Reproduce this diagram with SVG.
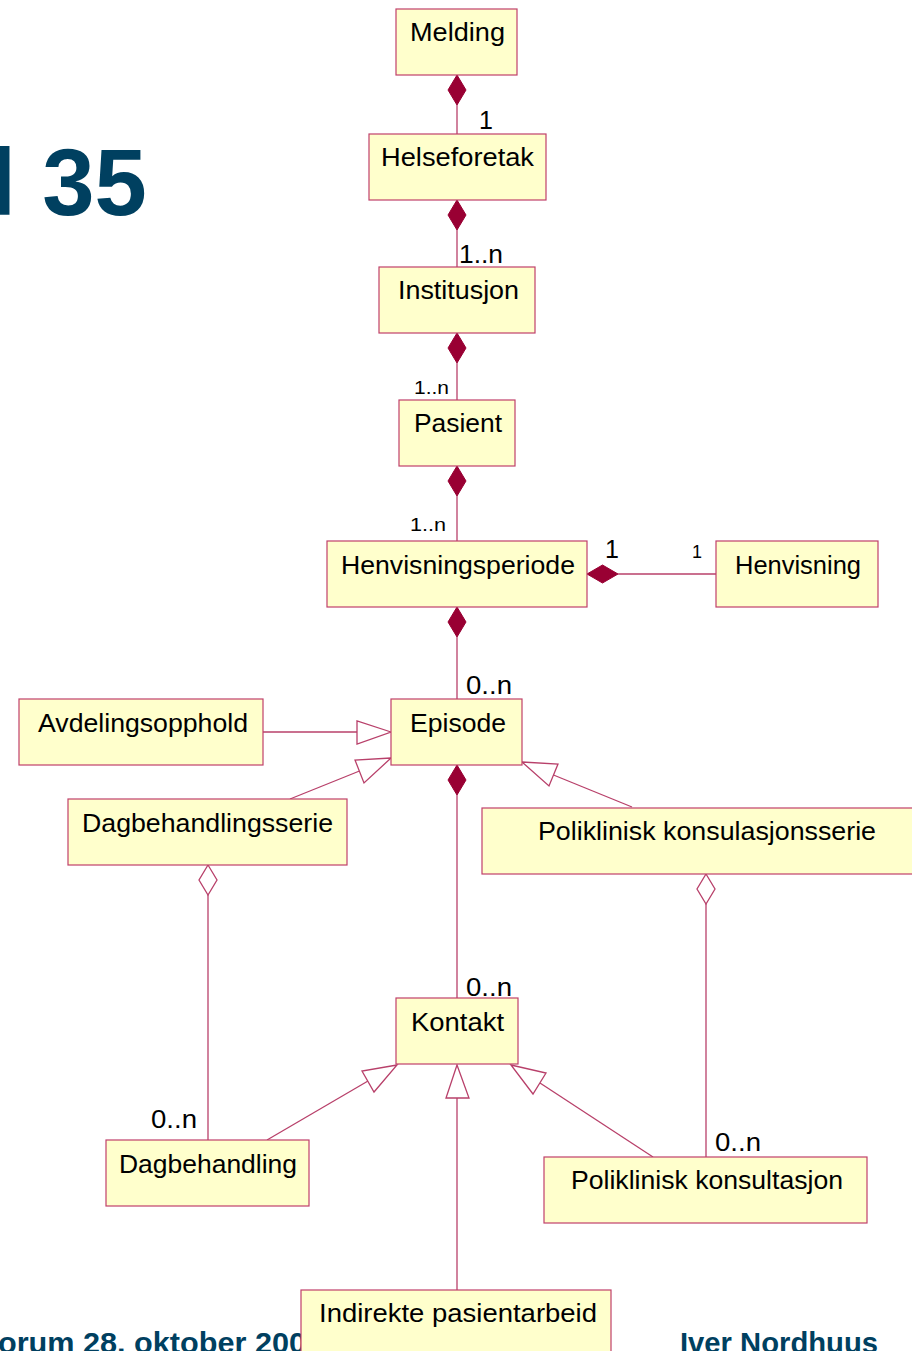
<svg xmlns="http://www.w3.org/2000/svg" width="912" height="1351" viewBox="0 0 912 1351">
<defs>
<style>
.box{fill:#FFFFCC;stroke:#C0406A;stroke-width:1.2}
.t{font-family:"Liberation Sans",Arial,sans-serif;font-size:25px;fill:#000;text-anchor:middle}
.m{font-family:"Liberation Sans",Arial,sans-serif;font-size:25px;fill:#000}
.s{font-family:"Liberation Sans",Arial,sans-serif;font-size:18px;fill:#000}
.ln{stroke:#B8406A;stroke-width:1.3;fill:none}
.fd{fill:#990033;stroke:#990033;stroke-width:1}
.hd{fill:#fff;stroke:#B8406A;stroke-width:1.3}
.tri{fill:#fff;stroke:#B8406A;stroke-width:1.3}
.title{font-family:"Liberation Sans",Arial,sans-serif;font-weight:bold;fill:#004060}
</style>
</defs>
<rect width="912" height="1351" fill="#fff"/>
<g id="title"><text class="title" x="-10" y="215" font-size="94">l 35</text></g>
<g id="footer">
<text class="title" x="-2" y="1353" font-size="29" textLength="308" lengthAdjust="spacingAndGlyphs">orum 28. oktober 200</text>
<text class="title" x="680" y="1353" font-size="29" textLength="198" lengthAdjust="spacingAndGlyphs">Iver Nordhuus</text>
</g>
<g id="connectors">
<line class="ln" x1="457" y1="105" x2="457" y2="134"/>
<polygon class="fd" points="457,75 466,90 457,105 448,90"/>
<line class="ln" x1="457" y1="230" x2="457" y2="267"/>
<polygon class="fd" points="457,200 466,215 457,230 448,215"/>
<line class="ln" x1="457" y1="363" x2="457" y2="400"/>
<polygon class="fd" points="457,333 466,348 457,363 448,348"/>
<line class="ln" x1="457" y1="496" x2="457" y2="541"/>
<polygon class="fd" points="457,466 466,481 457,496 448,481"/>
<line class="ln" x1="457" y1="637" x2="457" y2="699"/>
<polygon class="fd" points="457,607 466,622 457,637 448,622"/>
<line class="ln" x1="618" y1="574" x2="716" y2="574"/>
<polygon class="fd" points="587,574 602.5,565 618,574 602.5,583"/>
<line class="ln" x1="457" y1="795" x2="457" y2="998"/>
<polygon class="fd" points="457,765 466,780 457,795 448,780"/>
<line class="ln" x1="263" y1="732" x2="357" y2="732"/>
<polygon class="tri" points="391,732 357,721 357,744"/>
<line class="ln" x1="290" y1="799" x2="359.5" y2="771"/>
<polygon class="tri" points="391,758 355,760 364,783"/>
<line class="ln" x1="632" y1="807" x2="553.5" y2="775"/>
<polygon class="tri" points="522,762 558,764 549,786"/>
<line class="ln" x1="208" y1="895" x2="208" y2="1140"/>
<polygon class="hd" points="208,865 217,880 208,895 199,880"/>
<line class="ln" x1="706" y1="904" x2="706" y2="1157"/>
<polygon class="hd" points="706,874 715,889 706,904 697,889"/>
<line class="ln" x1="267" y1="1140" x2="368" y2="1081"/>
<polygon class="tri" points="397,1065 362,1071 374,1092"/>
<line class="ln" x1="457" y1="1098" x2="457" y2="1290"/>
<polygon class="tri" points="457,1065 446,1098 469,1098"/>
<line class="ln" x1="653" y1="1157" x2="540" y2="1083"/>
<polygon class="tri" points="511,1065 546,1073 533,1094"/>
</g>
<g id="labels">
<text class="m" x="479" y="129">1</text>
<text class="m" x="459" y="263" textLength="44" lengthAdjust="spacingAndGlyphs">1..n</text>
<text class="s" x="414" y="394" textLength="35" lengthAdjust="spacingAndGlyphs">1..n</text>
<text class="s" x="410" y="531" textLength="36" lengthAdjust="spacingAndGlyphs">1..n</text>
<text class="m" x="605" y="558">1</text>
<text class="s" x="692" y="558">1</text>
<text class="m" x="466" y="694" textLength="46" lengthAdjust="spacingAndGlyphs">0..n</text>
<text class="m" x="466" y="996" textLength="46" lengthAdjust="spacingAndGlyphs">0..n</text>
<text class="m" x="151" y="1128" textLength="46" lengthAdjust="spacingAndGlyphs">0..n</text>
<text class="m" x="715" y="1151" textLength="46" lengthAdjust="spacingAndGlyphs">0..n</text>
</g>
<g id="Melding"><rect class="box" x="396" y="9" width="121" height="66"/><text class="t" x="457.5" y="41" textLength="95" lengthAdjust="spacingAndGlyphs">Melding</text></g>
<g id="Helseforetak"><rect class="box" x="369" y="134" width="177" height="66"/><text class="t" x="457.5" y="166" textLength="153" lengthAdjust="spacingAndGlyphs">Helseforetak</text></g>
<g id="Institusjon"><rect class="box" x="379" y="267" width="156" height="66"/><text class="t" x="458.5" y="299" textLength="121" lengthAdjust="spacingAndGlyphs">Institusjon</text></g>
<g id="Pasient"><rect class="box" x="399" y="400" width="116" height="66"/><text class="t" x="458" y="432" textLength="88" lengthAdjust="spacingAndGlyphs">Pasient</text></g>
<g id="Henvisningsperiode"><rect class="box" x="327" y="541" width="260" height="66"/><text class="t" x="458" y="574" textLength="234" lengthAdjust="spacingAndGlyphs">Henvisningsperiode</text></g>
<g id="Henvisning"><rect class="box" x="716" y="541" width="162" height="66"/><text class="t" x="798" y="574" textLength="126" lengthAdjust="spacingAndGlyphs">Henvisning</text></g>
<g id="Avdelingsopphold"><rect class="box" x="19" y="699" width="244" height="66"/><text class="t" x="143" y="732" textLength="210" lengthAdjust="spacingAndGlyphs">Avdelingsopphold</text></g>
<g id="Episode"><rect class="box" x="391" y="699" width="131" height="66"/><text class="t" x="458" y="732" textLength="96" lengthAdjust="spacingAndGlyphs">Episode</text></g>
<g id="Dagbehandlingsserie"><rect class="box" x="68" y="799" width="279" height="66"/><text class="t" x="207.5" y="832" textLength="251" lengthAdjust="spacingAndGlyphs">Dagbehandlingsserie</text></g>
<g id="PoliklinisKonsulasjonsserie"><rect class="box" x="482" y="808" width="440" height="66"/><text class="t" x="707" y="840" textLength="338" lengthAdjust="spacingAndGlyphs">Poliklinisk konsulasjonsserie</text></g>
<g id="Kontakt"><rect class="box" x="396" y="998" width="122" height="66"/><text class="t" x="457.5" y="1031" textLength="93" lengthAdjust="spacingAndGlyphs">Kontakt</text></g>
<g id="Dagbehandling"><rect class="box" x="106" y="1140" width="203" height="66"/><text class="t" x="208" y="1173" textLength="178" lengthAdjust="spacingAndGlyphs">Dagbehandling</text></g>
<g id="PoliklinisKonsultasjon"><rect class="box" x="544" y="1157" width="323" height="66"/><text class="t" x="707" y="1189" textLength="272" lengthAdjust="spacingAndGlyphs">Poliklinisk konsultasjon</text></g>
<g id="IndirektePasientarbeid"><rect class="box" x="301" y="1290" width="310" height="80"/><text class="t" x="458" y="1322" textLength="278" lengthAdjust="spacingAndGlyphs">Indirekte pasientarbeid</text></g>
</svg>
